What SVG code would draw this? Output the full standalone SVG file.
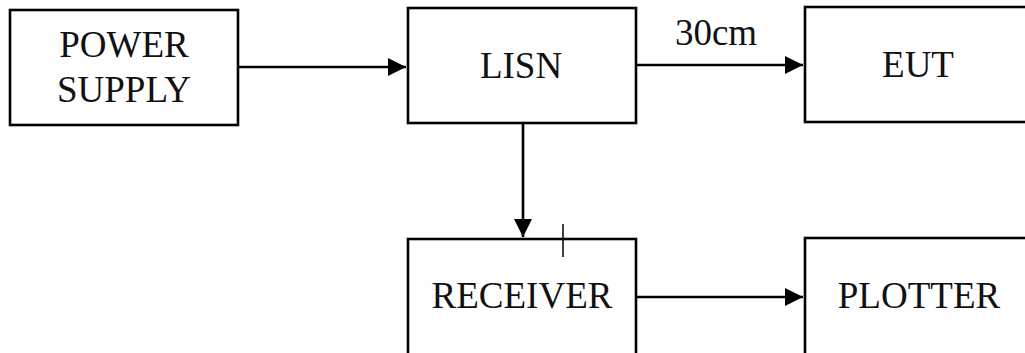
<svg xmlns="http://www.w3.org/2000/svg" width="1025" height="353" viewBox="0 0 1025 353">
<style>
.box{fill:#fff;stroke:#000;stroke-width:2.6}
.t{font-family:"Liberation Serif","Times New Roman",serif;font-size:37px;fill:#111;text-anchor:middle}
.c{stroke:#000;stroke-width:2.6;fill:none}
</style>
<defs>
<marker id="ah" viewBox="0 0 10 10" refX="10" refY="5" markerWidth="7" markerHeight="7" markerUnits="strokeWidth" orient="auto">
<path d="M0,0 L10,5 L0,10 Z" fill="#000"/>
</marker>
</defs>
<rect width="1025" height="353" fill="#fff"/>
<g id="power-supply">
<rect class="box" x="10" y="10" width="228" height="115"/>
<text class="t" x="124" y="57">POWER</text>
<text class="t" x="124" y="102">SUPPLY</text>
</g>
<g id="lisn">
<rect class="box" x="408" y="8" width="228" height="115"/>
<text class="t" x="521" y="78">LISN</text>
</g>
<g id="eut">
<rect class="box" x="805" y="7" width="240" height="115"/>
<text class="t" x="918" y="77">EUT</text>
</g>
<g id="receiver">
<rect class="box" x="408" y="239" width="228" height="130"/>
<text class="t" x="522" y="308">RECEIVER</text>
<line x1="563" y1="224" x2="563" y2="257" stroke="#000" stroke-width="1.5"/>
</g>
<g id="plotter">
<rect class="box" x="805" y="238" width="240" height="130"/>
<text class="t" x="919" y="308">PLOTTER</text>
</g>
<g id="connectors">
<line class="c" x1="238" y1="67" x2="406" y2="67" marker-end="url(#ah)"/>
<line class="c" x1="636" y1="65" x2="803" y2="65" marker-end="url(#ah)"/>
<text class="t" x="716" y="45">30cm</text>
<line class="c" x1="523" y1="123" x2="523" y2="237" marker-end="url(#ah)"/>
<line class="c" x1="636" y1="297" x2="803" y2="297" marker-end="url(#ah)"/>
</g>
</svg>
